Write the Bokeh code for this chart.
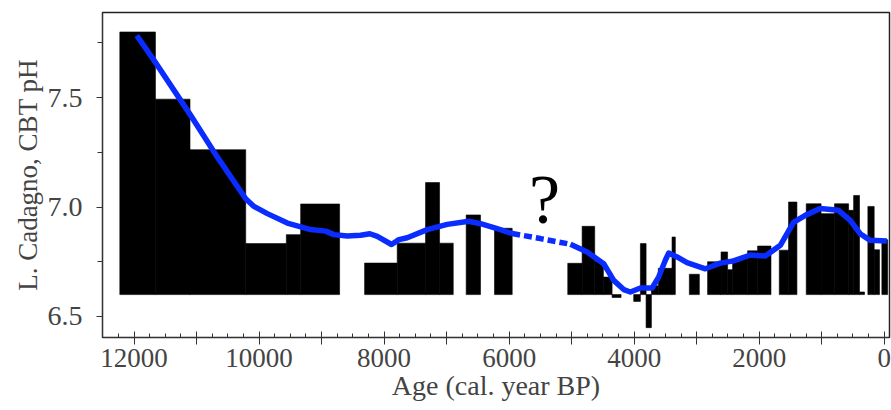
import numpy as np
from bokeh.plotting import figure
from bokeh.models import Range1d, FixedTicker, ColumnDataSource, Label
from bokeh.embed import file_html
from bokeh.resources import INLINE

# ---------------- data ----------------
BASELINE = 6.6
bar_start = [12228, 11658, 11105, 10214, 9564, 9335, 8312, 7790, 7337, 7113, 6687, 6234,
             5062, 4832, 4631, 4492, 4353, 4007, 3900, 3809, 3724, 3613, 3394, 3117,
             2825, 2610, 2505, 2425, 2185, 2025, 1678, 1530, 1247, 1010, 794, 569,
             489, 395, 261, 160, 37]
bar_end = [11658, 11105, 10214, 9564, 9335, 8712, 7790, 7337, 7113, 6894, 6458, 5951,
           4832, 4631, 4492, 4353, 4209, 3900, 3809, 3724, 3613, 3394, 3341, 2957,
           2610, 2505, 2425, 2185, 2025, 1811, 1530, 1396, 1010, 794, 569, 489,
           395, 315, 160, 75, -56]
bar_value = [7.80, 7.493, 7.262, 6.833, 6.874, 7.014, 6.744, 6.835, 7.112, 6.835, 6.964, 6.903,
             6.743, 6.912, 6.752, 6.68, 6.587, 6.569, 6.833, 6.449, 6.64, 6.72, 6.863, 6.693,
             6.75, 6.795, 6.714, 6.764, 6.80, 6.822, 6.803, 7.023, 7.015, 6.97, 7.015, 6.985,
             7.053, 6.612, 7.003, 6.805, 6.851]

curve_age_old = [11957, 11680, 11094, 10667, 10214, 10082, 9868, 9548, 9175, 8936, 8803,
                 8589, 8376, 8228, 8109, 7881, 7764, 7630, 7310, 6990, 6645, 6458, 6191, 5951]
curve_ph_old = [7.784, 7.67, 7.419, 7.228, 7.038, 7.003, 6.97, 6.927, 6.897, 6.89, 6.874,
                6.868, 6.871, 6.878, 6.866, 6.829, 6.851, 6.86, 6.897, 6.921, 6.935, 6.924, 6.901, 6.879]
curve_age_gap = [5951, 5499, 5019]
curve_ph_gap = [6.879, 6.856, 6.83]
curve_age_young = [5019, 4752, 4487, 4327, 4167, 4060, 3900, 3713, 3608, 3501, 3448, 3314,
                   3154, 2861, 2622, 2409, 2142, 1902, 1662, 1450, 1263, 1023, 731, 543,
                   384, 224, -43]
curve_ph_young = [6.83, 6.795, 6.741, 6.665, 6.623, 6.612, 6.63, 6.63, 6.68, 6.757, 6.79, 6.772,
                  6.746, 6.718, 6.744, 6.754, 6.781, 6.776, 6.825, 6.93, 6.962, 6.993, 6.985, 6.939,
                  6.878, 6.848, 6.845]

x_major = [0, 1000, 2000, 3000, 4000, 5000, 6000, 7000, 8000, 9000, 10000, 11000, 12000]
x_labels = {0: "0", 2000: "2000", 4000: "4000", 6000: "6000", 8000: "8000",
            10000: "10000", 12000: "12000"}
y_major = [6.5, 7.0, 7.5]
y_minor = [6.75, 7.25, 7.75]
y_labels = {6.5: "6.5", 7.0: "7.0", 7.5: "7.5"}

FONT = "Liberation Serif"
BLUE = "#0a2cff"

p = figure(width=891, height=410, output_backend="svg", toolbar_location=None,
           x_range=Range1d(12505, -85), y_range=Range1d(6.404, 7.889),
           min_border_left=102, min_border_right=2, min_border_top=12, min_border_bottom=73)
p.grid.visible = False
p.outline_line_color = "#222222"
p.outline_line_width = 1.5
p.background_fill_color = "white"
p.border_fill_color = "white"

src = ColumnDataSource(dict(left=bar_start, right=bar_end, top=bar_value,
                            bottom=[BASELINE] * len(bar_value)))
p.quad(left="left", right="right", top="top", bottom="bottom", source=src,
       fill_color="black", line_color="black", line_width=0.6)

p.line(curve_age_old, curve_ph_old, line_color=BLUE, line_width=5.5, line_join="round")
p.line(curve_age_gap, curve_ph_gap, line_color=BLUE, line_width=5.5, line_dash="8 4")
p.line(curve_age_young, curve_ph_young, line_color=BLUE, line_width=5.5, line_join="round")

p.add_layout(Label(x=5435, y=7.035, text="?", text_font=FONT, text_font_size="70px",
                   text_align="center", text_baseline="alphabetic", text_color="black"))

# x axis
xa = p.xaxis[0]
xa.ticker = FixedTicker(ticks=x_major, minor_ticks=list(range(0, 12500, 250)))
xa.major_label_overrides = {k: x_labels.get(k, "") for k in x_major}
xa.axis_label = "Age (cal. year BP)"
xa.axis_label_text_font = FONT
xa.axis_label_text_font_size = "28px"
xa.axis_label_text_font_style = "normal"
xa.axis_label_standoff = 0
xa.major_label_text_font = FONT
xa.major_label_text_font_size = "27px"
xa.major_label_standoff = 4
xa.major_tick_in = 6
xa.major_tick_out = 7
xa.minor_tick_in = 4
xa.minor_tick_out = 0
xa.axis_line_color = "#333333"
xa.major_tick_line_color = "#333333"
xa.minor_tick_line_color = "#333333"

# y axis
ya = p.yaxis[0]
ya.ticker = FixedTicker(ticks=y_major, minor_ticks=y_minor)
ya.major_label_overrides = y_labels
ya.axis_label = "L. Cadagno, CBT pH"
ya.axis_label_text_font = FONT
ya.axis_label_text_font_size = "27px"
ya.axis_label_text_font_style = "normal"
ya.axis_label_standoff = 2
ya.major_label_text_font = FONT
ya.major_label_text_font_size = "28px"
ya.major_label_standoff = 14
ya.major_label_orientation = "horizontal"
ya.major_tick_in = 0
ya.major_tick_out = 6
ya.minor_tick_in = 0
ya.minor_tick_out = 5
ya.axis_line_color = "#333333"
ya.major_tick_line_color = "#333333"
ya.minor_tick_line_color = "#333333"

open("out.html", "w").write(file_html(p, INLINE))
